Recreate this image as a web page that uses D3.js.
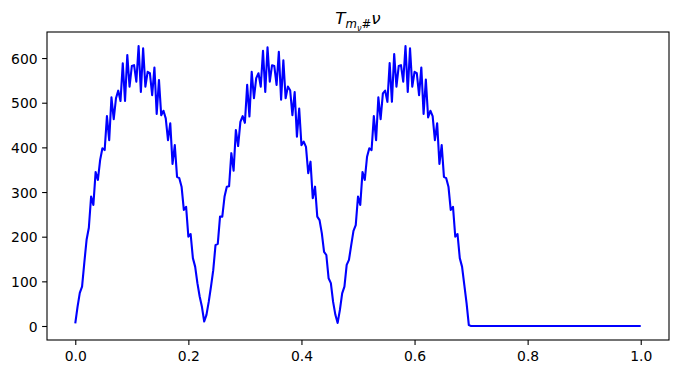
<!DOCTYPE html>
<html>
<head>
<meta charset="utf-8">
<script src="https://d3js.org/d3.v7.min.js"></script>
<style>
body { margin: 0; background: #fff; }
text { font-family: "DejaVu Sans", sans-serif; }
.tick line { stroke: #000; stroke-width: 1.1px; }
.tick text { font-size: 13.9px; fill: #000; }
</style>
</head>
<body>
<svg id="chart"></svg>
<script>
// sample spacing on the x axis (0..1)
const xStep = 1 / 250;

// values, one per sample
const hump1 = [6, 43, 74, 88, 142, 193, 220, 290, 271, 345, 327, 372, 398, 394, 470, 416, 512, 463, 510, 527,
  504, 588, 504, 607, 536, 582, 584, 547, 627, 524, 622, 536, 569, 566, 517, 579, 475, 551, 472, 482,
  465, 416, 454, 363, 405, 334, 331, 312, 260, 267, 200, 206, 152, 133, 96, 66, 43, 10];
const hump2 = [25, 54, 88, 125, 181, 184, 245, 245, 290, 312, 313, 387, 348, 439, 403, 457, 470, 455, 540, 469,
  569, 510, 555, 566, 536, 616, 524, 624, 547, 584, 582, 540, 614, 507, 595, 510, 536, 528, 472, 524,
  424, 487, 405, 413, 401, 342, 368, 286, 312, 245, 237, 208, 166, 159, 107, 96, 54, 25, 7];
const hump3 = [36, 73, 88, 137, 148, 181, 213, 226, 290, 271, 345, 327, 379, 398, 394, 470, 416, 512, 463, 521,
  527, 502, 589, 502, 609, 536, 582, 584, 547, 627, 524, 622, 536, 569, 566, 517, 579, 475, 552, 467,
  482, 470, 416, 454, 363, 405, 334, 331, 312, 260, 267, 200, 206, 152, 133, 92, 51, 2];
const zeroTail = new Array(76).fill(0);

const yTicks = [0, 100, 200, 300, 400, 500, 600];
const xTicks = [0, 0.2, 0.4, 0.6, 0.8, 1.0];

const values = hump1.concat(hump2, hump3, zeroTail);
const data = values.map((v, i) => ({ x: i * xStep, y: v }));

const W = 676, H = 374;
const mLeft = 47, mRight = 669, mTop = 32, mBottom = 340;

const svg = d3.select('#chart').attr('width', W).attr('height', H);

const yMax = d3.max(values), yMin = d3.min(values);
const xPad = 0.05, yPad = (yMax - yMin) * 0.05;
const xScale = d3.scaleLinear().domain([0 - xPad, 1 + xPad]).range([mLeft, mRight]);
const yScale = d3.scaleLinear().domain([yMin - yPad, yMax + yPad]).range([mBottom, mTop]);

const line = d3.line().x(d => xScale(d.x)).y(d => yScale(d.y));

svg.append('path')
  .datum(data)
  .attr('d', line)
  .attr('fill', 'none')
  .attr('stroke', '#0000ff')
  .attr('stroke-width', 2.1)
  .attr('stroke-linejoin', 'round')
  .attr('stroke-linecap', 'butt');

// axes
const xAxis = d3.axisBottom(xScale).tickValues(xTicks).tickFormat(d3.format('.1f'))
  .tickSize(4.9).tickPadding(4.5).tickSizeOuter(0);
const gx = svg.append('g').attr('transform', `translate(0,${mBottom})`).call(xAxis);
gx.select('.domain').remove();
gx.selectAll('.tick text').attr('dy', '0.85em');

const yAxis = d3.axisLeft(yScale).tickValues(yTicks)
  .tickSize(4.9).tickPadding(4.5).tickSizeOuter(0);
const gy = svg.append('g').attr('transform', `translate(${mLeft},0)`).call(yAxis);
gy.select('.domain').remove();
gy.selectAll('.tick text').attr('dy', '0.36em');

// frame
svg.append('rect')
  .attr('x', mLeft).attr('y', mTop)
  .attr('width', mRight - mLeft).attr('height', mBottom - mTop)
  .attr('fill', 'none').attr('stroke', '#000').attr('stroke-width', 1.1);

// title  T_{m_ν#}ν
const title = svg.append('text')
  .attr('x', (mLeft + mRight) / 2).attr('y', 24)
  .attr('text-anchor', 'middle')
  .attr('font-size', 16.7);
title.append('tspan').attr('font-style', 'italic').text('T');
title.append('tspan').attr('font-style', 'italic').attr('font-size', 11.7).attr('dy', 4).text('m');
title.append('tspan').attr('font-style', 'italic').attr('font-size', 8.2).attr('dy', 2.5).text('ν');
title.append('tspan').attr('font-size', 11.7).attr('dy', -2.5).text('#');
title.append('tspan').attr('font-style', 'italic').attr('font-size', 16.7).attr('dy', -4).text('ν');
</script>
</body>
</html>
